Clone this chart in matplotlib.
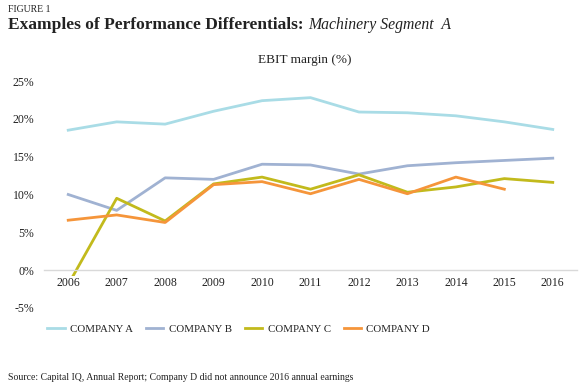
import matplotlib
matplotlib.use("Agg")
import matplotlib.pyplot as plt
from matplotlib.ticker import FuncFormatter

years = ["2006", "2007", "2008", "2009", "2010", "2011",
         "2012", "2013", "2014", "2015", "2016"]
company_a = [18.5, 19.6, 19.3, 21.0, 22.4, 22.8, 20.9, 20.8, 20.4, 19.6, 18.6]
company_b = [10.0, 7.9, 12.2, 12.0, 14.0, 13.9, 12.7, 13.8, 14.2, 14.5, 14.8]
company_c = [-1.9, 9.5, 6.5, 11.4, 12.3, 10.7, 12.6, 10.3, 11.0, 12.1, 11.6]
company_d = [6.6, 7.3, 6.3, 11.3, 11.7, 10.1, 12.0, 10.1, 12.3, 10.7]
yticks = [-5, 0, 5, 10, 15, 20, 25]

COL_A = "#a9dce6"
COL_B = "#a0b2d2"
COL_C = "#c2ba1c"
COL_D = "#f5953a"
INK = "#222222"
FONT = "Liberation Serif"

plt.rcParams["font.family"] = [FONT, "DejaVu Serif"]

fig = plt.figure(figsize=(5.79, 3.86), dpi=100)
ax = fig.add_axes([44 / 579, 1 - 308 / 386, (577 - 44) / 579, (308 - 81) / 386])

x = list(range(len(years)))
ax.plot(x, company_a, color=COL_A, lw=2, label="COMPANY A")
ax.plot(x, company_b, color=COL_B, lw=2, label="COMPANY B")
ax.plot(x, company_c, color=COL_C, lw=2, label="COMPANY C")
ax.plot(x[:len(company_d)], company_d, color=COL_D, lw=2, label="COMPANY D")

ax.set_xlim(-0.5, len(years) - 0.5)
ax.set_ylim(-5, 25)
ax.set_yticks(yticks)
ax.yaxis.set_major_formatter(FuncFormatter(lambda v, p: "%d%%" % v))
ax.set_xticks(x)
ax.set_xticklabels(years)

for s in ["top", "right", "left"]:
    ax.spines[s].set_visible(False)
ax.spines["bottom"].set_position(("data", 0))
ax.spines["bottom"].set_color("#d9d9d9")
ax.spines["bottom"].set_linewidth(1)
ax.xaxis.set_zorder(3)
ax.tick_params(axis="both", length=0, labelsize=8.5, colors=INK)
ax.tick_params(axis="x", pad=5)
ax.tick_params(axis="y", pad=7)
for t in ax.get_xticklabels():
    t.set_bbox(dict(facecolor="white", edgecolor="none", pad=0.5))

leg = ax.legend(loc="upper left", bbox_to_anchor=(-0.012, -0.03), ncol=4, frameon=False,
                fontsize=7.8, handlelength=1.6, columnspacing=1.2, handletextpad=0.5)
for t in leg.get_texts():
    t.set_color(INK)

fig.text(8 / 579, 1 - 9 / 386, "FIGURE 1", fontsize=7, color=INK, va="center", ha="left")
t1 = fig.text(8 / 579, 1 - 25 / 386, "Examples of Performance Differentials: ",
              fontsize=12.5, weight="bold", color=INK, va="center", ha="left")
ax.annotate("Machinery Segment  A", xy=(1, 0.5), xycoords=t1, fontsize=11.3,
            style="italic", color=INK, va="center", ha="left", annotation_clip=False)
fig.text(305 / 579, 1 - 60 / 386, "EBIT margin (%)", fontsize=9.5, color=INK,
         va="center", ha="center")
fig.text(8 / 579, 1 - 377 / 386,
         "Source: Capital IQ, Annual Report; Company D did not announce 2016 annual earnings",
         fontsize=7, color=INK, va="center", ha="left")

fig.savefig("out.png", dpi=100, facecolor="white")
